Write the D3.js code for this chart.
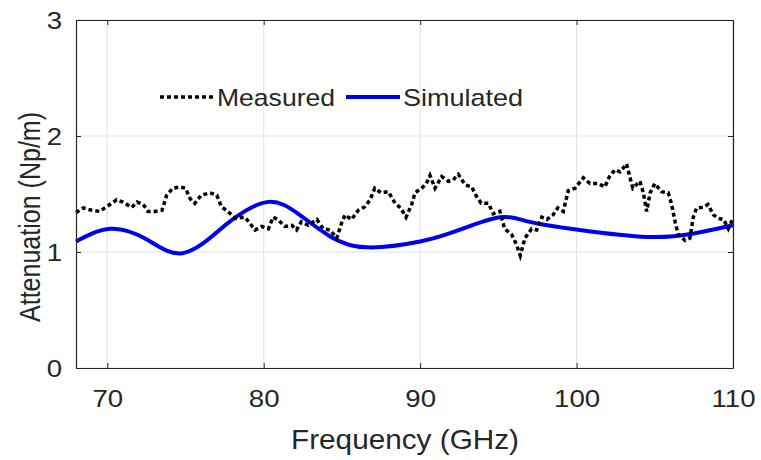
<!doctype html>
<html>
<head>
    <script src="https://d3js.org/d3.v7.min.js"></script>
    <style>
        body { margin: 0; background: #fff; }
        text { font-family: Arial, "Liberation Sans", sans-serif; fill: #262626; }
    </style>
</head>
<body>
    <script>
        // measured attenuation (dotted black)
        let measFreq = [68.0, 68.47, 69.0, 69.5, 69.96, 70.6, 71.0, 71.56, 71.9, 72.3, 72.6, 73.05, 73.5, 73.8, 74.2, 74.65,
            75.0, 75.3, 75.6, 76.0, 76.57, 77.0, 77.3, 77.7, 78.2, 78.8, 79.1, 79.44, 79.87, 80.3, 80.6, 80.9, 81.36, 81.8,
            82.1, 82.4, 82.85, 83.4, 83.8, 84.24, 84.67, 84.98, 85.2, 85.6, 86.05, 86.47, 86.8, 87.1, 87.5, 87.96, 88.4,
            88.75, 89.1, 89.46, 89.67, 90.1, 90.4, 90.63, 90.95, 91.38, 91.8, 92.1, 92.44, 92.87, 93.3, 93.6, 93.9, 94.36,
            94.68, 95.1, 95.4, 95.85, 96.17, 96.4, 96.7, 97.13, 97.45, 97.77, 98.1, 98.5, 98.8, 99.15, 99.47, 99.9, 100.43,
            100.86, 101.4, 101.8, 102.1, 102.46, 102.78, 103.2, 103.4, 103.6, 104.05, 104.27, 104.48, 104.7, 105.0, 105.44,
            105.86, 106.08, 106.3, 106.5, 106.93, 107.25, 107.46, 107.68, 108.1, 108.4, 108.75, 109.06, 109.4, 109.7, 110.0];
        let measVal = [1.34, 1.38, 1.36, 1.35, 1.39, 1.45, 1.43, 1.385, 1.43, 1.41, 1.35, 1.35, 1.36, 1.49, 1.55, 1.56,
            1.55, 1.46, 1.42, 1.49, 1.51, 1.49, 1.39, 1.35, 1.29, 1.30, 1.25, 1.19, 1.22, 1.20, 1.30, 1.28, 1.22, 1.23,
            1.19, 1.26, 1.23, 1.28, 1.20, 1.19, 1.12, 1.25, 1.32, 1.28, 1.36, 1.39, 1.45, 1.55, 1.51, 1.52, 1.42,
            1.38, 1.30, 1.41, 1.51, 1.55, 1.59, 1.66, 1.55, 1.65, 1.61, 1.62, 1.67, 1.58, 1.56, 1.48, 1.42, 1.42,
            1.33, 1.35, 1.20, 1.15, 1.06, 0.97, 1.12, 1.20, 1.19, 1.30, 1.28, 1.32, 1.38, 1.35, 1.53, 1.55, 1.64,
            1.59, 1.59, 1.56, 1.65, 1.71, 1.69, 1.76, 1.65, 1.55, 1.61, 1.51, 1.35, 1.51, 1.59, 1.52,
            1.51, 1.41, 1.26, 1.15, 1.10, 1.12, 1.30, 1.38, 1.385, 1.41, 1.32, 1.29, 1.28, 1.20, 1.29];

        // simulated attenuation (solid blue)
        let simFreq = [68, 70.2, 72.5, 74.8, 77, 78, 80.2, 82.3, 84.3, 86.6, 90, 92.5, 95.1, 97, 100.2, 104.5, 107.5, 110];
        let simVal = [1.09, 1.20, 1.11, 0.99, 1.17, 1.28, 1.43, 1.32, 1.13, 1.04, 1.09, 1.19, 1.30, 1.26, 1.19, 1.13, 1.16, 1.23];

        let xTicks = [70, 80, 90, 100, 110];
        let yTicks = [0, 1, 2, 3];

        let W = 761, H = 460;
        let pl = 76, pr = 733, pt = 20, pb = 368;

        let x = d3.scaleLinear().domain([68, 110]).range([pl, pr]);
        let y = d3.scaleLinear().domain([0, 3]).range([pb, pt]);

        let svg = d3.select("body").append("svg")
                    .attr("width", W).attr("height", H);

        // grid
        svg.selectAll("line.gx").data(xTicks).enter().append("line")
            .attr("x1", d => x(d)).attr("x2", d => x(d))
            .attr("y1", pt).attr("y2", pb)
            .attr("stroke", "#e2e2e2").attr("stroke-width", 1);
        svg.selectAll("line.gy").data(yTicks).enter().append("line")
            .attr("x1", pl).attr("x2", pr)
            .attr("y1", d => y(d)).attr("y2", d => y(d))
            .attr("stroke", "#e2e2e2").attr("stroke-width", 1);

        let simPts = simFreq.map((f, i) => [f, simVal[i]]);
        let measPts = measFreq.map((f, i) => [f, measVal[i]]);

        svg.append("path").datum(simPts)
            .attr("d", d3.line().x(d => x(d[0])).y(d => y(d[1])).curve(d3.curveNatural))
            .attr("fill", "none").attr("stroke", "#0000f0").attr("stroke-width", 4);

        svg.append("path").datum(measPts)
            .attr("d", d3.line().x(d => x(d[0])).y(d => y(d[1])))
            .attr("fill", "none").attr("stroke", "#000").attr("stroke-width", 3.5)
            .attr("stroke-dasharray", "4,3");

        // axes (MATLAB style, inward ticks, box)
        let axX = svg.append("g").attr("transform", `translate(0,${pb})`)
            .call(d3.axisBottom(x).tickValues(xTicks).tickSizeInner(-5).tickSizeOuter(0).tickPadding(22));
        let axY = svg.append("g").attr("transform", `translate(${pl},0)`)
            .call(d3.axisLeft(y).tickValues(yTicks).tickSizeInner(-5).tickSizeOuter(0).tickPadding(12).tickFormat(d3.format("d")));
        let axR = svg.append("g").attr("transform", `translate(${pr},0)`)
            .call(d3.axisRight(y).tickValues(yTicks).tickSizeInner(-5).tickSizeOuter(0).tickFormat(""));
        let axT = svg.append("g").attr("transform", `translate(0,${pt})`)
            .call(d3.axisTop(x).tickValues(xTicks).tickSizeInner(-5).tickSizeOuter(0).tickFormat(""));
        [axX, axY, axR, axT].forEach(g => {
            g.select(".domain").attr("stroke", "#262626").attr("stroke-width", 1.2);
            g.selectAll(".tick line").attr("stroke", "#262626");
            g.selectAll(".tick text").style("font-size", "24px").attr("fill", "#262626")
                .attr("transform", "scale(1.15,1)");
        });
        axY.selectAll(".tick text").attr("dy", "0.36em");

        // axis labels
        svg.append("text").attr("x", 405).attr("y", 449)
            .attr("text-anchor", "middle").style("font-size", "28px")
            .attr("textLength", 228).attr("lengthAdjust", "spacingAndGlyphs")
            .text("Frequency (GHz)");
        svg.append("text").attr("transform", "translate(40,217) rotate(-90) scale(1,1.18)")
            .attr("text-anchor", "middle").style("font-size", "25px")
            .attr("textLength", 210).attr("lengthAdjust", "spacingAndGlyphs")
            .text("Attenuation (Np/m)");

        // legend
        let lg = svg.append("g");
        lg.append("line").attr("x1", 160).attr("x2", 214).attr("y1", 97).attr("y2", 97)
            .attr("stroke", "#000").attr("stroke-width", 3.5).attr("stroke-dasharray", "4,3");
        lg.append("text").attr("x", 217).attr("y", 106).style("font-size", "24px")
            .attr("textLength", 118).attr("lengthAdjust", "spacingAndGlyphs").text("Measured");
        lg.append("line").attr("x1", 346).attr("x2", 400).attr("y1", 97).attr("y2", 97)
            .attr("stroke", "#0000f0").attr("stroke-width", 4);
        lg.append("text").attr("x", 403).attr("y", 106).style("font-size", "24px")
            .attr("textLength", 120).attr("lengthAdjust", "spacingAndGlyphs").text("Simulated");
    </script>
</body>
</html>
